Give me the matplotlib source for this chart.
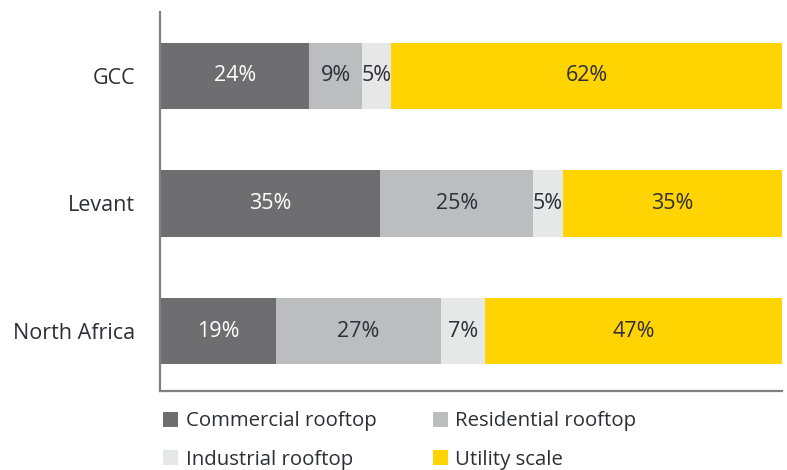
import matplotlib
matplotlib.use("Agg")
import matplotlib.pyplot as plt
from matplotlib.patches import Patch

regions = ["North Africa", "Levant", "GCC"]
series_names = ["Commercial rooftop", "Residential rooftop", "Industrial rooftop", "Utility scale"]
# segment shares as drawn (%)
commercial = [18.6, 35.4, 24.0]
residential = [26.6, 24.6, 8.5]
industrial = [7.1, 4.8, 4.7]
utility = [47.7, 35.2, 62.8]
# printed labels (%)
commercial_lbl = [19, 35, 24]
residential_lbl = [27, 25, 9]
industrial_lbl = [7, 5, 5]
utility_lbl = [47, 35, 62]
series_values = [commercial, residential, industrial, utility]
series_labels = [commercial_lbl, residential_lbl, industrial_lbl, utility_lbl]
colors = ["#6e6e70", "#bcbdbf", "#e6e7e7", "#ffd400"]
text_colors = ["white", "#2e2e38", "#2e2e38", "#2e2e38"]

plt.rcParams['font.family'] = ['Open Sans', 'DejaVu Sans']

fig = plt.figure(figsize=(7.87, 4.70), dpi=100)
ax = fig.add_axes([160/787, 79/470, 622/787, (391-12)/470])

ypos = list(range(len(regions)))
left = [0]*len(regions)
for vals, lbls, col, tcol in zip(series_values, series_labels, colors, text_colors):
    ax.barh(ypos, vals, left=left, height=0.52, color=col, edgecolor='none')
    for y, v, l, t in zip(ypos, vals, left, lbls):
        ax.text(l + v/2, y, f"{t}%", ha='center', va='center', color=tcol, fontsize=15.5)
    left = [a+b for a, b in zip(left, vals)]

ax.set_xlim(0, 100)
ax.set_ylim(-0.47, 2.5)
ax.set_yticks(ypos)
ax.set_yticklabels(regions, fontsize=15.5, color="#2e2e38")
ax.tick_params(axis='y', length=0, pad=18)
ax.set_xticks([])
for s in ['top', 'right']:
    ax.spines[s].set_visible(False)
for s in ['left', 'bottom']:
    ax.spines[s].set_color('#808080')
    ax.spines[s].set_linewidth(1.6)

# matplotlib fills legend columns first; reorder so rows read as in the reference
order = [0, 2, 1, 3]
handles = [Patch(facecolor=colors[i], edgecolor='none') for i in order]
labels = [series_names[i] for i in order]
fig.legend(handles, labels, loc='upper left', bbox_to_anchor=(155/787, 1-403/470),
           ncol=2, frameon=False, fontsize=14.7, handlelength=0.75, handleheight=0.75,
           handletextpad=0.35, columnspacing=2.75, labelspacing=0.9, borderaxespad=0,
           labelcolor="#2e2e38")

fig.savefig("out.png", dpi=100)
